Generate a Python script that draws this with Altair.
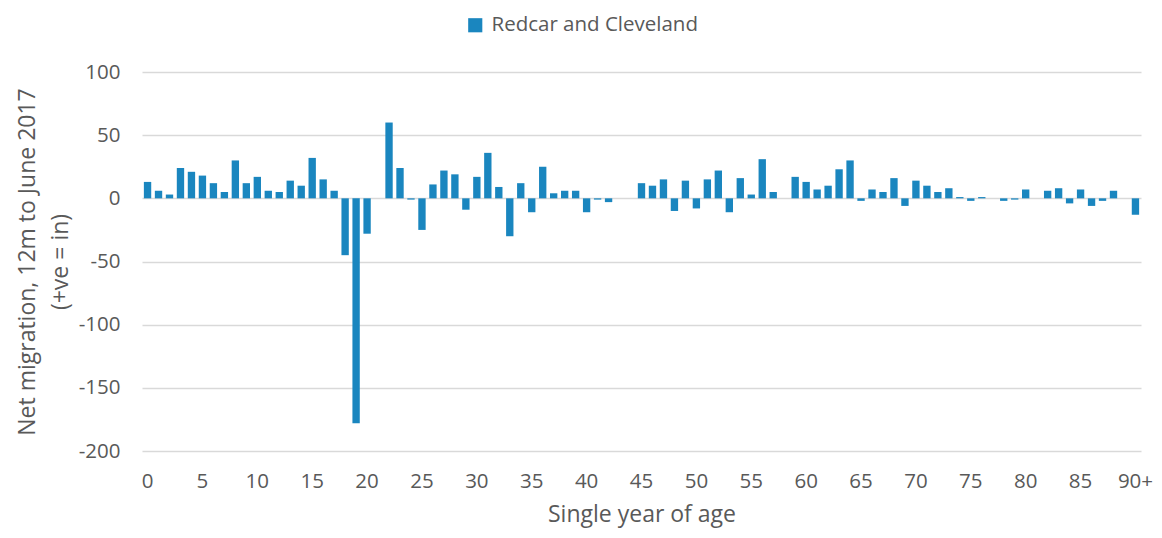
import altair as alt
import pandas as pd

ages = [str(i) for i in range(90)] + ["90+"]
values = [13, 6, 3, 24, 21, 18, 12, 5, 30, 12,
          17, 6, 5, 14, 10, 32, 15, 6, -45, -178,
          -28, 0, 60, 24, -1, -25, 11, 22, 19, -9,
          17, 36, 9, -30, 12, -11, 25, 4, 6, 6,
          -11, -1, -3, 0, 0, 12, 10, 15, -10, 14,
          -8, 15, 22, -11, 16, 3, 31, 5, 0, 17,
          13, 7, 10, 23, 30, -2, 7, 5, 16, -6,
          14, 10, 5, 8, 1, -2, 1, 0, -2, -1,
          7, 0, 6, 8, -4, 7, -6, -2, 6, 0, -13]
series_name = "Redcar and Cleveland"
tick_labels = [str(i) for i in range(0, 90, 5)] + ["90+"]
y_ticks = [-200, -150, -100, -50, 0, 50, 100]

df = pd.DataFrame({"age": ages, "value": values, "series": series_name})

FONT = "Open Sans"
GREY = "#595959"
BLUE = "#1a86bf"
FS = 20.5
TFS = 23

chart = alt.Chart(df).mark_bar(color=BLUE).encode(
    x=alt.X("age:N", sort=ages,
            scale=alt.Scale(paddingInner=0.33, paddingOuter=0.17),
            axis=alt.Axis(values=tick_labels, labelAngle=0, ticks=False, domain=False,
                          grid=False, labelPadding=20, labelFontSize=FS,
                          labelColor=GREY, labelFont=FONT,
                          title="Single year of age", titleFontSize=TFS,
                          titleFont=FONT, titleColor=GREY, titleFontWeight="normal",
                          titlePadding=12)),
    y=alt.Y("value:Q",
            scale=alt.Scale(domain=[-200, 100], nice=False, zero=True),
            axis=alt.Axis(values=y_ticks, ticks=False, labelExpr="toString(datum.value)",
                          domain=False, gridColor="#d9d9d9", gridWidth=1.5,
                          labelPadding=22, labelFontSize=FS, labelColor=GREY,
                          labelFont=FONT,
                          title=["Net migration, 12m to June 2017", "(+ve = in)"],
                          titleFontSize=TFS, titleFont=FONT, titleColor=GREY,
                          titleFontWeight="normal", titlePadding=6,
                          titleLineHeight=33)),
    color=alt.Color("series:N", scale=alt.Scale(range=[BLUE]),
                    legend=alt.Legend(title=None, orient="none", legendX=323,
                                      legendY=-57, symbolType="square",
                                      symbolSize=200, symbolStrokeWidth=0,
                                      labelFontSize=FS, labelFont=FONT,
                                      labelLimit=400,
                                      labelColor=GREY, labelOffset=6)),
).properties(
    width=999, height=379,
    autosize=alt.AutoSizeParams(type="none"),
    padding={"left": 134, "top": 64, "right": 13, "bottom": 79},
).configure_view(stroke=None)

chart.save("out.html", embed_options={"renderer": "svg", "actions": False})
